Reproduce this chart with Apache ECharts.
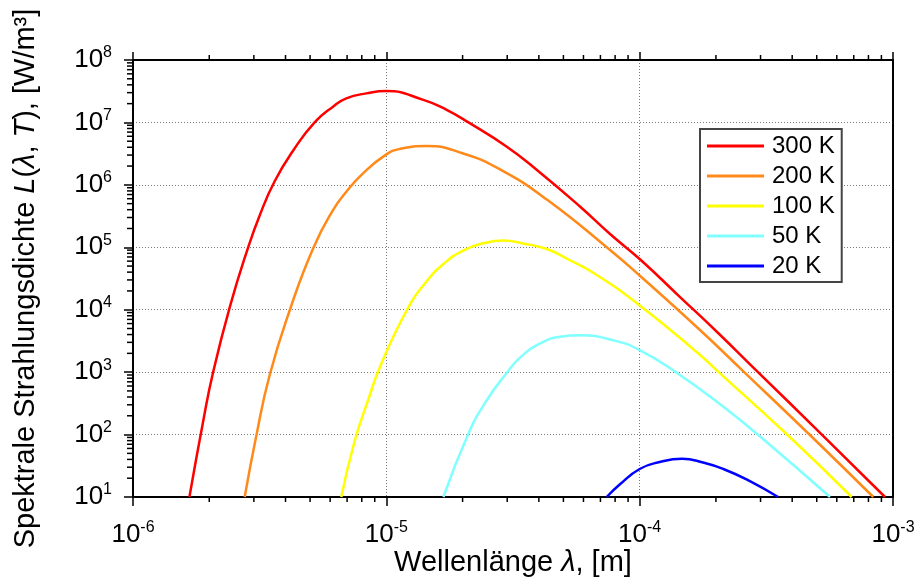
<!DOCTYPE html>
<html>
<head>
<meta charset="utf-8">
<script src="https://cdn.jsdelivr.net/npm/echarts@6/dist/echarts.min.js"></script>
<style>
html,body{margin:0;padding:0;background:#fff;}
#main{width:918px;height:577px;}
</style>
</head>
<body>
<div id="main"></div>
<script>
var seriesNames = ['300 K', '200 K', '100 K', '50 K', '20 K'];
var seriesColors = ['#ff0000', '#ff8a1a', '#ffff00', '#80ffff', '#0000ff'];

var curve300 = [[1.67e-6,10],[1.89e-6,159],[2.07e-6,986],[2.41e-6,1.10e4],[2.84e-6,9.64e4],[3.16e-6,3.21e5],
	[3.62e-6,1.13e6],[4.29e-6,3.55e6],[5.21e-6,1.0e7],[6.16e-6,1.79e7],[6.95e-6,2.43e7],[8.34e-6,2.92e7],
	[1.0e-5,3.18e7],[1.40e-5,2.30e7],[1.73e-5,1.59e7],[2.11e-5,1.0e7],[2.99e-5,4.08e6],[3.93e-5,1.73e6],
	[5.81e-5,4.50e5],[7.64e-5,1.63e5],[1.01e-4,6.25e4],[1.44e-4,1.61e4],[2.05e-4,4.16e3],[2.85e-4,1.12e3],
	[5.31e-4,94.8],[9.30e-4,10]];
var curve200 = [[2.76e-6,10],[3.07e-6,97.7],[3.46e-6,883],[4.16e-6,9.9e3],[5.14e-6,9.6e4],[6.16e-6,3.95e5],
	[6.95e-6,7.76e5],[8.09e-6,1.53e6],[1.0e-5,3.08e6],[1.13e-5,3.76e6],[1.44e-5,4.19e6],[2.01e-5,3.18e6],
	[2.81e-5,1.77e6],[4.30e-5,5.82e5],[7.64e-5,9.04e4],[1.01e-4,3.40e4],[1.73e-4,4.73e3],[2.56e-4,1.04e3],
	[4.70e-4,98.4],[8.36e-4,10]];
var curve100 = [[6.64e-6,10],[7.50e-6,78.9],[8.53e-6,385],[9.44e-6,1.21e3],[1.20e-5,9.53e3],[1.44e-5,2.83e4],
	[1.69e-5,5.50e4],[2.01e-5,8.87e4],[2.42e-5,1.16e5],[2.89e-5,1.28e5],[3.47e-5,1.15e5],[4.30e-5,9.37e4],
	[5.19e-5,6.49e4],[6.77e-5,3.60e4],[1.01e-4,1.14e4],[1.74e-4,1.85e3],[2.04e-4,1.02e3],[3.80e-4,102],
	[6.87e-4,10]];
var curve50 = [[1.68e-5,10],[2.11e-5,104],[2.49e-5,355],[2.99e-5,977],[3.37e-5,1.71e3],[4.05e-5,2.88e3],
	[4.85e-5,3.7e3],[5.82e-5,3.89e3],[7.87e-5,3.24e3],[1.0e-4,2.26e3],[1.40e-4,980],[2.14e-4,279],
	[2.94e-4,98.4],[5.64e-4,10]];
var curve20 = [[7.41e-5,10],[8.36e-5,16],[1.0e-4,28.1],[1.20e-4,36.4],[1.47e-4,40.9],[1.78e-4,35.7],
	[2.14e-4,28.1],[2.70e-4,18.3],[3.52e-4,10]];

var xTicks = [1e-6, 1e-5, 1e-4, 1e-3];
var yTicks = [1e1, 1e2, 1e3, 1e4, 1e5, 1e6, 1e7, 1e8];
var minorSteps = [2, 3, 4, 5, 6, 7, 8, 9];

var font = '"Liberation Sans", Arial, sans-serif';
var labelRich = {
	b: {fontSize: 26, lineHeight: 30, fontFamily: font, color: '#000'},
	s: {fontSize: 16, lineHeight: 14, verticalAlign: 'top', fontFamily: font, color: '#000'}
};
function powLabel(v){
	var e = Math.round(Math.log(v) / Math.LN10);
	return '{b|10}{s|' + e + '}';
}
var nameStyle = {fontSize: 29, fontFamily: font, color: '#000',
	rich: {i: {fontSize: 29, fontStyle: 'italic', fontFamily: font, color: '#000'}}};

var axisLine = {show: true, lineStyle: {color: '#000', width: 2}};
var dotted = {show: true, lineStyle: {color: '#7a7a7a', width: 1, type: [1, 2]}};

function logAxis(ticks, extra){
	var a = {
		type: 'log', logBase: 10, min: ticks[0], max: ticks[ticks.length - 1], interval: 1,
		axisLine: axisLine,
		axisTick: {show: true, length: 9, lineStyle: {color: '#000', width: 1.5}},
		axisLabel: {show: false},
		splitLine: {show: false},
		minorTick: {show: false}
	};
	for(var k in extra) a[k] = extra[k];
	return a;
}

var curves = [curve300, curve200, curve100, curve50, curve20];
var series = curves.map(function(d, i){
	return {
		name: seriesNames[i], type: 'line', data: d,
		symbol: 'none', smooth: 0.5,
		lineStyle: {color: seriesColors[i], width: 2.5},
		itemStyle: {color: seriesColors[i]}
	};
});

var chart = echarts.init(document.getElementById('main'), null, {renderer: 'canvas'});
chart.setOption({
	animation: false,
	backgroundColor: '#fff',
	grid: {left: 133, top: 60, width: 760, height: 437, outerBoundsMode: 'none', containLabel: false},
	legend: {
		data: seriesNames, orient: 'vertical', left: 700, top: 129,
		icon: 'rect', padding: [5, 7, 4, 7], itemGap: 6, itemWidth: 57, itemHeight: 3,
		backgroundColor: '#fff', borderColor: '#444', borderWidth: 2,
		textStyle: {fontSize: 24, lineHeight: 24, fontFamily: font, color: '#000', padding: [0, 0, 0, 3]}
	},
	xAxis: [
		logAxis(xTicks, {
			position: 'bottom',
			axisLabel: {show: true, margin: 23, formatter: powLabel, rich: labelRich},
			splitLine: dotted,
			name: 'Wellenlänge {i|λ}, [m]', nameLocation: 'middle', nameGap: 51, nameMoveOverlap: false,
			nameTextStyle: nameStyle
		}),
		logAxis(xTicks, {position: 'top', axisTick: {show: true, length: 8, lineStyle: {color: '#000', width: 1.5}}})
	],
	yAxis: [
		logAxis(yTicks, {
			position: 'left',
			axisLabel: {show: true, margin: 21, formatter: powLabel, rich: labelRich},
			splitLine: dotted,
			name: 'Spektrale Strahlungsdichte {i|L}({i|λ}, {i|T}), [W/m³]', nameLocation: 'middle', nameGap: 93,
			nameMoveOverlap: false,
			nameTextStyle: nameStyle
		}),
		logAxis(yTicks, {position: 'right', axisTick: {show: false}})
	],
	series: series
});

// Nebenstriche 2..9 je Dekade, Lage ueber die Achsenskala der Grafik
var finder = {xAxisIndex: 0, yAxisIndex: 0};
var tickStyle = {stroke: '#000', lineWidth: 1.5};
var minorLines = [];
function tickLine(x1, y1, x2, y2){
	minorLines.push({type: 'line', silent: true, z: 50, shape: {x1: x1, y1: y1, x2: x2, y2: y2}, style: tickStyle});
}
xTicks.slice(0, -1).forEach(function(t){
	minorSteps.forEach(function(s){
		var pb = chart.convertToPixel(finder, [t * s, yTicks[0]]);
		var pt = chart.convertToPixel(finder, [t * s, yTicks[yTicks.length - 1]]);
		tickLine(pb[0], pb[1], pb[0], pb[1] + 5);
		tickLine(pt[0], pt[1], pt[0], pt[1] - 5);
	});
});
yTicks.slice(0, -1).forEach(function(t){
	minorSteps.forEach(function(s){
		var pl = chart.convertToPixel(finder, [xTicks[0], t * s]);
		tickLine(pl[0], pl[1], pl[0] - 6, pl[1]);
	});
});
chart.setOption({graphic: minorLines});
</script>
</body>
</html>
